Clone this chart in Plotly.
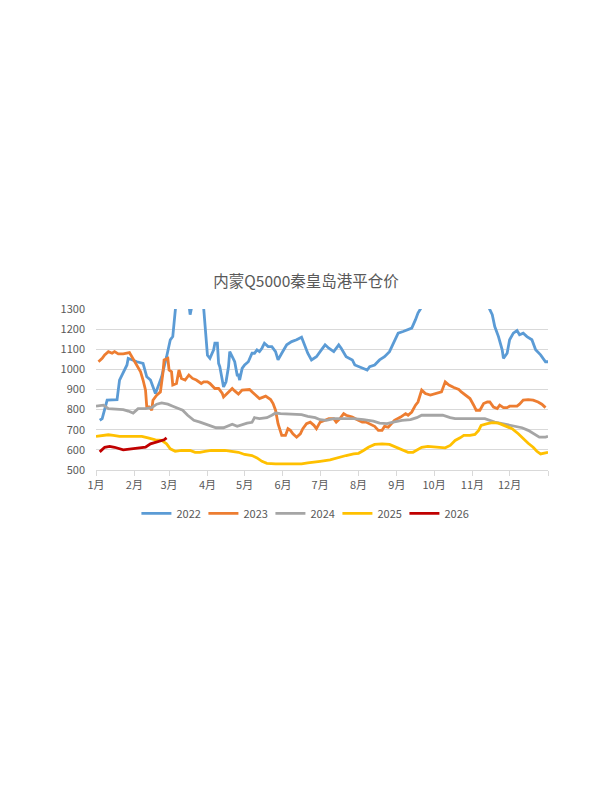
import plotly.graph_objects as go

# day of year (0 = 1 Jan) and price for each year
day_2022 = [3, 5, 9, 17, 19, 22, 25, 26, 29, 33, 38, 41, 44, 48, 50, 53, 57, 60, 62, 64,
            66, 70, 74, 76, 78, 82, 87, 90, 92, 95, 96, 98, 99, 100, 103, 105, 107, 108,
            110, 112, 114, 115, 116, 118, 120, 123, 126, 128, 130, 132, 134, 136, 139,
            142, 145, 147, 150, 154, 158, 162, 166, 169, 171, 174, 178, 182, 185, 188,
            192, 196, 198, 202, 207, 209, 213, 216, 219, 221, 225, 229, 233, 237, 240,
            244, 248, 252, 255, 258, 260, 262, 266, 275, 290, 300, 310, 317, 320, 322,
            325, 328, 329, 332, 334, 337, 340, 342, 345, 348, 352, 355, 359, 363, 365]
val_2022 = [747, 755, 847, 850, 947, 988, 1022, 1055, 1047, 1038, 1030, 963, 947, 880, 913,
            963, 1063, 1147, 1163, 1320, 1420, 1460, 1380, 1272, 1350, 1450, 1300, 1070,
            1055, 1097, 1130, 1130, 1030, 1013, 913, 938, 1013, 1088, 1063, 1038, 972, 972,
            947, 1005, 1022, 1038, 1080, 1080, 1097, 1088, 1105, 1130, 1113, 1113, 1088,
            1047, 1080, 1122, 1138, 1147, 1160, 1113, 1080, 1047, 1063, 1097, 1122, 1105,
            1088, 1122, 1105, 1063, 1047, 1022, 1013, 1005, 997, 1013, 1022, 1047, 1063,
            1088, 1130, 1180, 1188, 1197, 1205, 1247, 1280, 1300, 1340, 1420, 1480, 1450,
            1380, 1310, 1272, 1213, 1163, 1097, 1055, 1080, 1147, 1180, 1193, 1172, 1180,
            1163, 1147, 1097, 1072, 1038, 1038]

day_2023 = [2, 5, 7, 10, 13, 15, 18, 22, 27, 29, 33, 36, 38, 40, 41, 43, 45, 46, 49, 52,
            54, 55, 58, 59, 61, 62, 65, 67, 69, 72, 75, 78, 81, 85, 87, 90, 92, 96, 99,
            102, 103, 106, 110, 112, 115, 118, 122, 124, 127, 130, 132, 137, 141, 143,
            145, 147, 150, 153, 155, 157, 159, 162, 165, 167, 170, 173, 176, 178, 181,
            185, 188, 192, 194, 197, 200, 202, 207, 211, 215, 218, 221, 225, 228, 231,
            233, 236, 239, 241, 246, 250, 252, 255, 258, 260, 263, 266, 270, 274, 279,
            282, 285, 289, 293, 295, 299, 302, 305, 307, 310, 313, 316, 318, 321, 324,
            326, 329, 332, 334, 340, 342, 345, 349, 353, 357, 360, 363]
val_2023 = [1038, 1055, 1072, 1088, 1080, 1088, 1077, 1077, 1083, 1063, 1022, 988, 947, 897,
            813, 813, 797, 847, 872, 888, 980, 1047, 1055, 997, 988, 922, 930, 997, 955,
            947, 972, 955, 947, 930, 938, 938, 930, 905, 905, 880, 863, 880, 905, 893, 877,
            897, 897, 900, 883, 863, 855, 867, 850, 830, 797, 730, 672, 672, 705, 697, 680,
            663, 680, 705, 730, 738, 722, 705, 738, 747, 755, 755, 738, 755, 780, 772, 763,
            750, 738, 738, 730, 717, 697, 697, 717, 713, 733, 747, 763, 780, 772, 788, 822,
            838, 897, 880, 872, 880, 888, 938, 922, 910, 900, 888, 867, 855, 822, 797, 797,
            830, 838, 838, 813, 805, 822, 810, 810, 817, 817, 827, 847, 850, 847, 838, 827,
            810]

day_2024 = [0, 6, 10, 22, 26, 30, 34, 40, 45, 49, 53, 58, 62, 66, 70, 74, 79, 84, 88, 92,
            97, 103, 107, 110, 114, 118, 122, 126, 128, 132, 138, 142, 145, 149, 158, 166,
            171, 177, 181, 186, 192, 208, 216, 224, 229, 235, 240, 247, 254, 259, 263, 280,
            286, 290, 314, 318, 322, 328, 334, 340, 344, 349, 354, 358, 363, 365]
val_2024 = [817, 822, 805, 800, 793, 783, 805, 805, 810, 827, 833, 827, 817, 805, 797, 772,
            747, 738, 730, 722, 710, 710, 722, 727, 717, 727, 733, 737, 760, 755, 760, 772,
            783, 780, 777, 775, 767, 760, 750, 747, 755, 755, 750, 743, 733, 730, 738, 747,
            750, 760, 772, 772, 760, 755, 755, 747, 738, 730, 722, 717, 710, 697, 677, 663,
            663, 667]

day_2025 = [0, 5, 10, 14, 19, 30, 37, 42, 48, 53, 57, 60, 64, 69, 76, 80, 84, 88, 93, 104,
            110, 115, 120, 126, 130, 134, 138, 145, 155, 166, 171, 177, 181, 189, 196, 202,
            208, 212, 216, 220, 225, 231, 237, 243, 248, 252, 256, 260, 263, 268, 274, 282,
            286, 290, 294, 297, 302, 306, 309, 311, 316, 320, 325, 330, 336, 341, 345, 349,
            353, 356, 359, 363, 365]
val_2025 = [667, 672, 675, 672, 667, 667, 667, 660, 650, 647, 630, 605, 593, 597, 597, 588,
            588, 593, 597, 597, 593, 588, 577, 572, 560, 543, 533, 530, 530, 530, 535, 542,
            543, 550, 563, 572, 580, 583, 597, 613, 627, 630, 627, 613, 600, 588, 588, 600,
            613, 617, 613, 610, 622, 647, 660, 672, 672, 677, 697, 722, 730, 735, 733, 722,
            705, 680, 655, 633, 613, 593, 580, 583, 588]

day_2026 = [3, 7, 11, 15, 22, 28, 33, 40, 44, 48, 52, 55, 57]
val_2026 = [590, 613, 617, 613, 600, 605, 610, 613, 630, 638, 643, 650, 660]

years = ["2022", "2023", "2024", "2025", "2026"]
colors = ["#5B9BD5", "#ED7D31", "#A5A5A5", "#FFC000", "#C00000"]

month_starts = [0, 31, 59, 90, 120, 151, 181, 212, 243, 273, 304, 334, 365]
month_labels = ["1月", "2月", "3月", "4月", "5月", "6月", "7月", "8月", "9月", "10月",
                "11月", "12月", ""]

series = [(day_2022, val_2022), (day_2023, val_2023), (day_2024, val_2024),
          (day_2025, val_2025), (day_2026, val_2026)]

fig = go.Figure()
for (d, v), name, c in zip(series, years, colors):
    fig.add_trace(go.Scatter(x=d, y=v, mode="lines", name=name,
                             line=dict(color=c, width=2.8)))

grey = "#595959"
# the page body adds an 8px offset, so margins are shifted to compensate
fig.update_layout(
    width=612, height=792,
    paper_bgcolor="white", plot_bgcolor="white",
    margin=dict(l=88, r=72, t=301, b=330),
    font=dict(family="Noto Sans CJK SC, Noto Sans, sans-serif", size=11, color=grey),
    title=dict(text="内蒙Q5000秦皇岛港平仓价", x=0.487, xref="container",
               y=1 - 274 / 792, yanchor="middle",
               font=dict(size=15.5, color=grey)),
    showlegend=True,
    legend=dict(orientation="h", x=0.46, xanchor="center", y=-0.27, yanchor="middle",
                entrywidth=22, entrywidthmode="pixels",
                font=dict(size=11, color=grey)),
    xaxis=dict(range=[0, 365], tickmode="array", tickvals=month_starts,
               ticktext=month_labels, showgrid=False, showline=True,
               linecolor="#D9D9D9", linewidth=1, ticks="outside", ticklen=5,
               tickcolor="#D9D9D9", zeroline=False),
    yaxis=dict(range=[500, 1300], dtick=100, showgrid=True, gridcolor="#D9D9D9",
               gridwidth=1, zeroline=False, showline=False, ticks="",
               ticklabelstandoff=10),
)

fig.write_html("out.html")
